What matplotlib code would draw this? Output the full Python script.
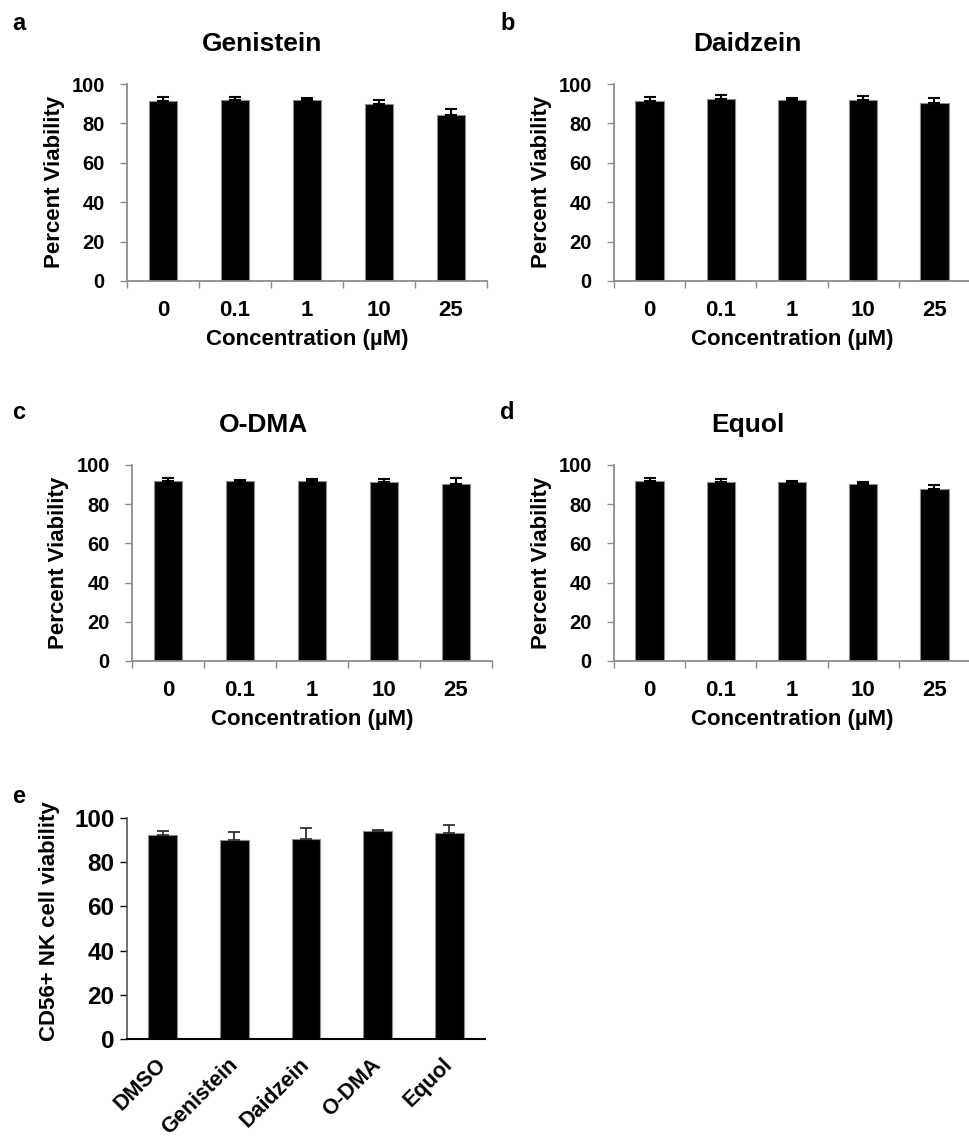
import numpy as np
import matplotlib
matplotlib.use('Agg')
import matplotlib.pyplot as plt
import matplotlib.transforms as mtransforms

plt.rcParams['font.family'] = ['Liberation Sans', 'DejaVu Sans']
plt.rcParams['font.weight'] = 'bold'

# --- datos ---
conc_labels = ['0', '0.1', '1', '10', '25']

genistein_mean = [91.5, 92.0, 91.8, 90.0, 84.4]
genistein_err = [1.7, 1.2, 1.0, 1.7, 2.9]

daidzein_mean = [91.5, 92.5, 92.0, 91.9, 90.2]
daidzein_err = [1.9, 1.9, 1.0, 2.0, 2.7]

odma_mean = [91.7, 91.7, 92.0, 91.1, 90.5]
odma_err = [1.5, 0.8, 1.0, 1.9, 3.0]

equol_mean = [91.7, 91.5, 91.1, 90.1, 87.6]
equol_err = [1.7, 1.5, 0.9, 1.0, 2.0]

nk_labels = ['DMSO', 'Genistein', 'Daidzein', 'O-DMA', 'Equol']
nk_mean = [92.2, 90.2, 90.5, 94.0, 93.2]
nk_err = [2.1, 3.6, 4.8, 0.7, 3.8]

W, H = 970, 1139
fig = plt.figure(figsize=(W / 100, H / 100), dpi=100)


def box(x0, y_top, x1, y_bot):
    # convierte pixeles a fracciones de figura
    return [x0 / W, 1 - y_bot / H, (x1 - x0) / W, (y_bot - y_top) / H]


GRAY = '#8c8c8c'


def panel(rect, means, errs, labels, title, tcx, tcy, letter, lx, ly, xl_y):
    ax = fig.add_axes(rect)
    x = np.arange(len(means))
    ax.bar(x, means, width=0.4, color='black', edgecolor=GRAY, linewidth=0.8, zorder=2)
    ax.errorbar(x, means, yerr=[np.zeros(len(errs)), errs], fmt='none',
                ecolor='black', elinewidth=1.5, capsize=4, capthick=1.5, zorder=3)
    ax.set_xlim(-0.5, len(means) - 0.5)
    ax.set_ylim(0, 100)
    ax.set_yticks(np.arange(0, 101, 20))
    ax.set_xticks(x)
    ax.set_xticklabels(labels, fontsize=16, fontweight='bold')
    ax.set_xticks(np.arange(-0.5, len(means), 1.0), minor=True)
    ax.tick_params(axis='x', which='major', length=0, pad=14)
    ax.tick_params(axis='x', which='minor', length=5, width=1, color=GRAY)
    ax.tick_params(axis='y', length=5, width=1, color=GRAY, pad=11, labelsize=14.5)
    for lab in ax.get_yticklabels():
        lab.set_fontweight('bold')
    for s in ['top', 'right']:
        ax.spines[s].set_visible(False)
    for s in ['left', 'bottom']:
        ax.spines[s].set_color(GRAY)
        ax.spines[s].set_linewidth(1.3)
    fig.text(tcx / W, 1 - tcy / H, title, ha='center', va='center', fontsize=19, fontweight='bold')
    fig.text(lx / W, 1 - ly / H, letter, ha='left', va='baseline', fontsize=17, fontweight='bold')
    axc = ax.get_position()
    fig.text((axc.x0 + axc.x1) / 2, 1 - xl_y / H, 'Concentration (µM)', ha='center', va='center',
             fontsize=16, fontweight='bold')
    return ax


ax_a = panel(box(127, 84, 487, 281), genistein_mean, genistein_err, conc_labels,
             'Genistein', 262, 44, 'a', 12, 30, 339)
ax_b = panel(box(614, 84, 970, 281), daidzein_mean, daidzein_err, conc_labels,
             'Daidzein', 747, 44, 'b', 500, 30, 339)
ax_c = panel(box(132, 465, 492, 661), odma_mean, odma_err, conc_labels,
             'O-DMA', 264, 425, 'c', 12, 419, 720)
ax_d = panel(box(614, 465, 970, 661), equol_mean, equol_err, conc_labels,
             'Equol', 748, 425, 'd', 500, 419, 720)

for lx, cy in [(55, 182), (541, 182), (59, 563), (541, 563)]:
    fig.text(lx / W, 1 - cy / H, 'Percent Viability', rotation=90, ha='center', va='center',
             fontsize=16, fontweight='bold')

# panel e
ax_e = fig.add_axes(box(127, 818, 485, 1039))
xe = np.arange(len(nk_mean))
ax_e.bar(xe, nk_mean, width=0.4, color='black', edgecolor=GRAY, linewidth=0.8, zorder=2)
ax_e.errorbar(xe, nk_mean, yerr=[np.zeros(len(nk_err)), nk_err], fmt='none',
              ecolor='#333333', elinewidth=1.3, capsize=4, capthick=1.3, zorder=3)
ax_e.set_xlim(-0.5, len(nk_mean) - 0.5)
ax_e.set_ylim(0, 100)
ax_e.set_yticks(np.arange(0, 101, 20))
ax_e.set_xticks(xe)
ax_e.set_xticklabels(nk_labels, rotation=45, ha='right', va='top', rotation_mode='anchor',
                     fontsize=15.5, fontweight='bold')
ax_e.tick_params(axis='x', length=0, pad=11)
shift = mtransforms.ScaledTranslation(-7 / 100, 0, fig.dpi_scale_trans)
for lab in ax_e.get_xticklabels():
    lab.set_transform(lab.get_transform() + shift)
ax_e.tick_params(axis='y', length=5, width=1, color='black', pad=4, labelsize=17.5)
for lab in ax_e.get_yticklabels():
    lab.set_fontweight('bold')
for s in ['top', 'right']:
    ax_e.spines[s].set_visible(False)
ax_e.spines['left'].set_color('#555555')
ax_e.spines['left'].set_linewidth(1.2)
ax_e.spines['bottom'].set_color('black')
ax_e.spines['bottom'].set_linewidth(1.5)
fig.text(50 / W, 1 - 921 / H, 'CD56+ NK cell viability', rotation=90, ha='center', va='center',
         fontsize=16, fontweight='bold')
fig.text(12 / W, 1 - 803 / H, 'e', ha='left', va='baseline', fontsize=17, fontweight='bold')

fig.savefig('out.png', dpi=100)
